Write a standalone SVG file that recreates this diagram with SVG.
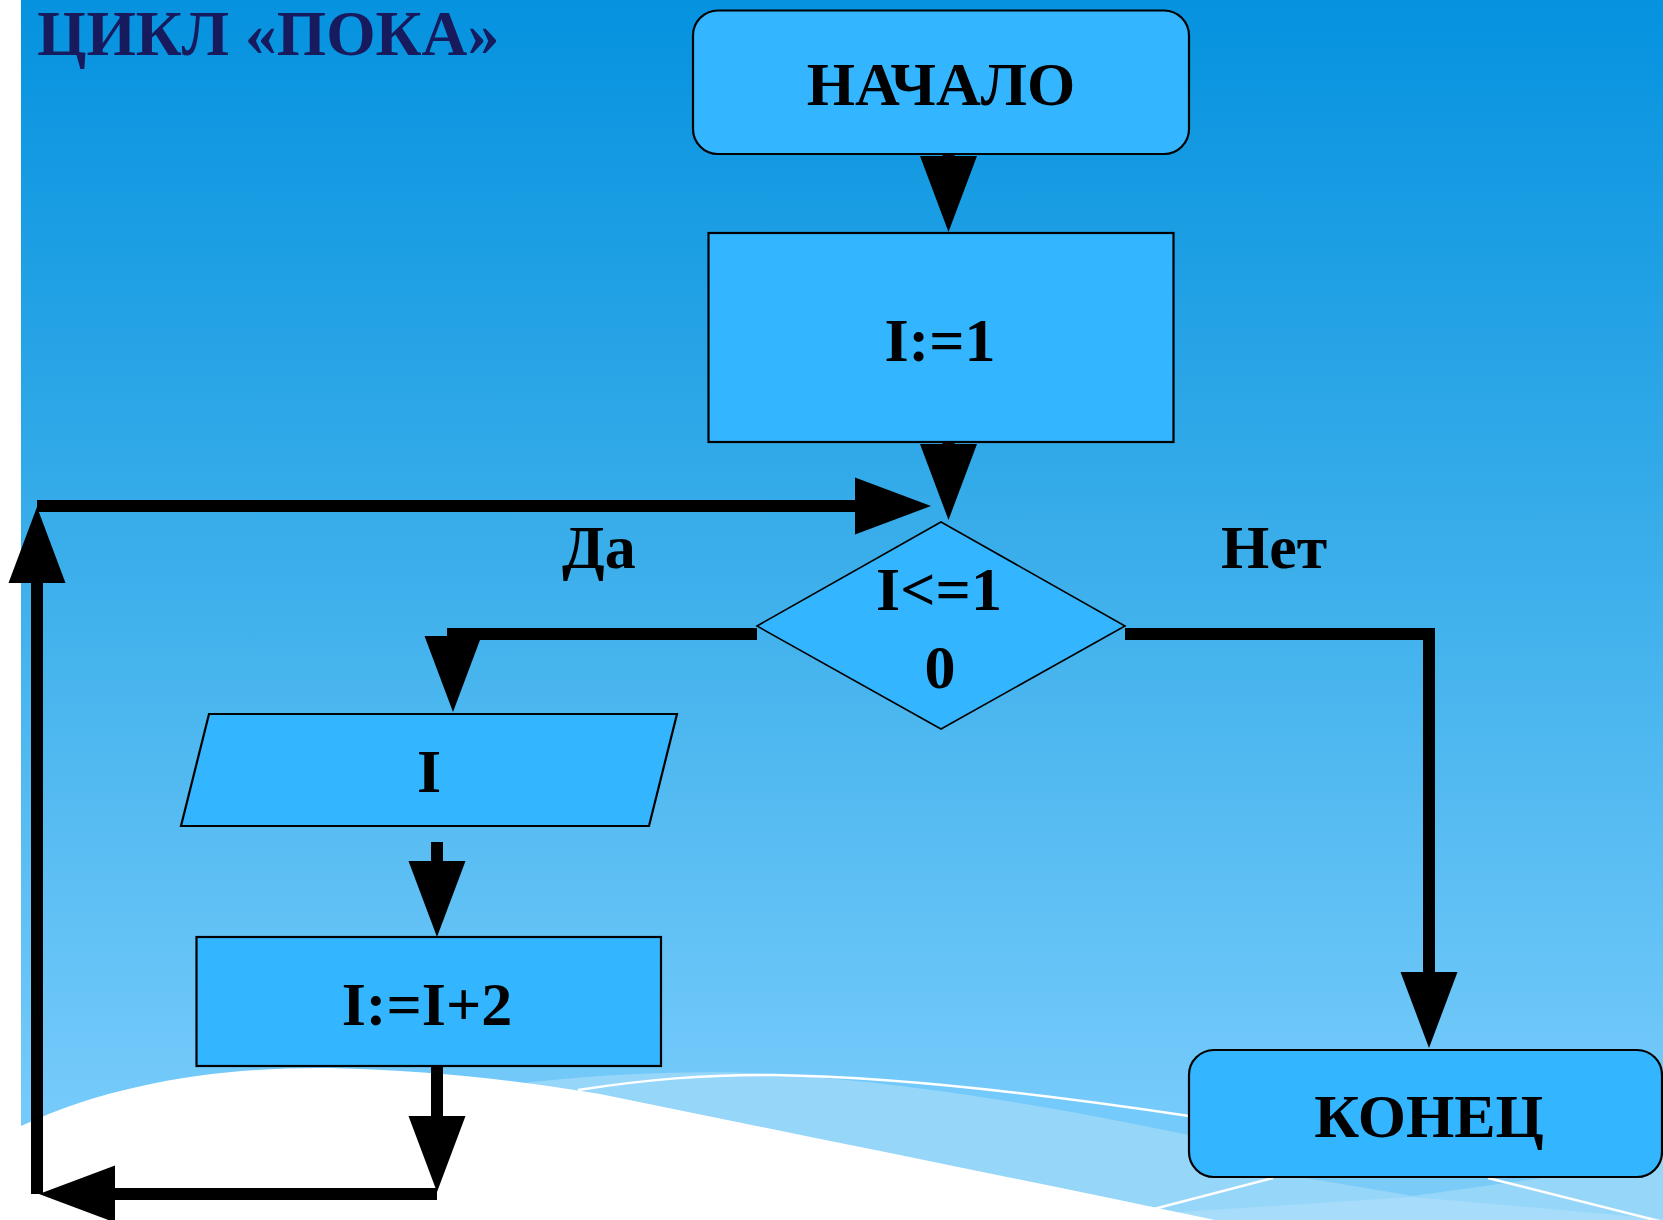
<svg xmlns="http://www.w3.org/2000/svg" width="1663" height="1220" viewBox="0 0 1663 1220">
  <defs>
    <linearGradient id="sky" gradientUnits="userSpaceOnUse" x1="0" y1="0" x2="0" y2="1100">
      <stop offset="0" stop-color="#0592DF"/>
      <stop offset="0.5" stop-color="#3AAEEA"/>
      <stop offset="1" stop-color="#74CAFA"/>
    </linearGradient>
    <marker id="head" markerUnits="userSpaceOnUse" markerWidth="80" markerHeight="60" refX="0" refY="28.5" orient="auto" overflow="visible">
      <path d="M0,0 L76,28.5 L0,57 Z" fill="#000"/>
    </marker>
    <style>
      .node { fill: #33B5FF; stroke: #000; stroke-width: 2.2; }
      .diamond { stroke-width: 1.6; }
      .lbl { font-family: "Liberation Serif", "Times New Roman", serif; font-weight: bold; font-size: 62px; fill: #000; text-anchor: middle; }
      .edge-lbl { text-anchor: start; }
      .title { font-family: "Liberation Serif", "Times New Roman", serif; font-weight: bold; font-size: 63.5px; fill: #171A5C; }
      .wire { fill: none; stroke: #000; stroke-width: 12; stroke-linejoin: miter; }
      .arrow { marker-end: url(#head); }
      .gleam { fill: none; stroke: #FFFFFF; stroke-width: 2.5; }
    </style>
  </defs>

  <!-- backdrop -->
  <rect x="0" y="0" width="1663" height="1220" fill="#FFFFFF"/>
  <rect x="21" y="0" width="1642" height="1220" fill="url(#sky)"/>
  <g id="backdrop-waves">
    <path d="M500,1086 C600,1073 700,1070 775,1074 C950,1086 1100,1116 1250,1148 L1663,1148 L1663,1220 L500,1220 Z" fill="#96D6F9"/>
    <path d="M1300,1177 L1550,1177 L1413,1196 Z" fill="#7BCBF9"/>
    <path d="M1150,1220 L1180,1212 L1413,1197 L1663,1219 L1663,1220 Z" fill="#A7DDFA"/>
    <path class="gleam" d="M578,1090 C650,1079 700,1075 775,1075 C900,1077 1050,1095 1189,1116"/>
    <path class="gleam" d="M1150,1210 L1273,1178"/>
    <path class="gleam" d="M1488,1178 L1663,1222"/>
    <path d="M21,1126 C120,1080 230,1067 330,1068 C430,1070 520,1081 600,1094 C800,1135 1000,1175 1215,1220 L21,1220 Z" fill="#FFFFFF"/>
  </g>

  <text class="title" x="37" y="55">ЦИКЛ «ПОКА»</text>

  <!-- connectors -->
  <g id="connectors">
    <path class="wire arrow" d="M948.5,153 V156"/>
    <path class="wire arrow" d="M948.5,441 V444"/>
    <path class="wire arrow" d="M757,634 H453 V636"/>
    <path class="wire arrow" d="M437,842 V861"/>
    <path class="wire arrow" d="M437,1066 V1116"/>
    <path class="wire arrow" d="M437,1194 H115"/>
    <path class="wire arrow" d="M37,1194 V583"/>
    <path class="wire arrow" d="M37,506 H855"/>
    <path class="wire arrow" d="M1125,634 H1429 V972"/>
    <text class="lbl edge-lbl" x="562" y="568">Да</text>
    <text class="lbl edge-lbl" x="1221" y="568">Нет</text>
  </g>

  <g id="start">
    <rect class="node" x="693" y="10.5" width="496" height="143.5" rx="25"/>
    <text class="lbl" x="941" y="105">НАЧАЛО</text>
  </g>

  <g id="init">
    <rect class="node" x="708.5" y="233" width="465" height="209"/>
    <text class="lbl" x="940" y="361">I:=1</text>
  </g>

  <g id="check">
    <polygon class="node diamond" points="941,522 1125,626 941,729 757,626"/>
    <text class="lbl" x="939" y="610">I&lt;=1</text>
    <text class="lbl" x="940" y="688">0</text>
  </g>

  <g id="output">
    <polygon class="node" points="209,714 677,714 649,826 181,826"/>
    <text class="lbl" x="429" y="792">I</text>
  </g>

  <g id="step">
    <rect class="node" x="196.5" y="937" width="464.5" height="129"/>
    <text class="lbl" x="427" y="1025">I:=I+2</text>
  </g>

  <g id="end">
    <rect class="node" x="1189" y="1050" width="473" height="127" rx="25"/>
    <text class="lbl" x="1429" y="1137">КОНЕЦ</text>
  </g>
</svg>
